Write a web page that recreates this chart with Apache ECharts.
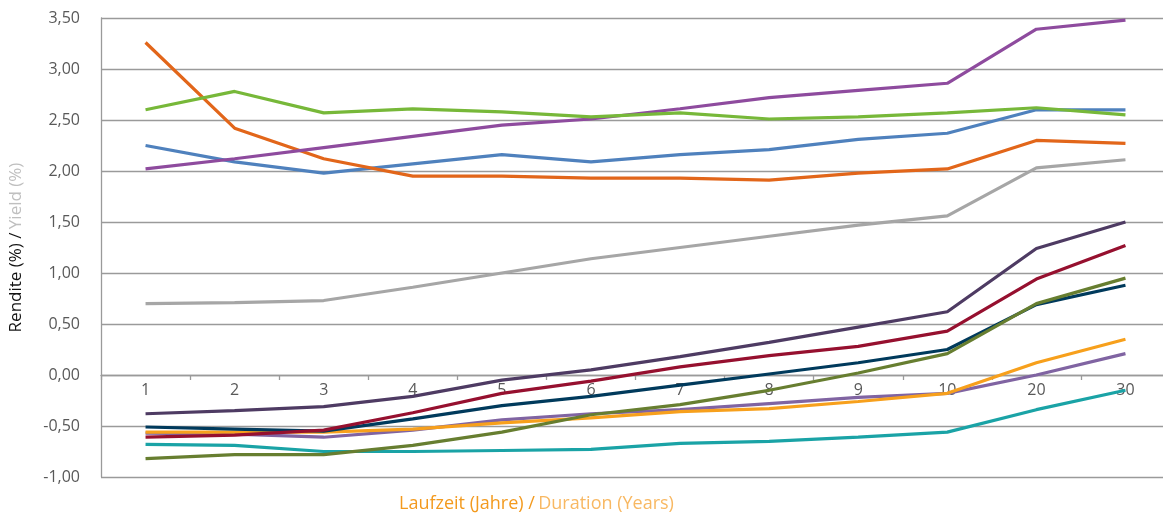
<!DOCTYPE html>
<html>
<head>
<meta charset="utf-8">
<script src="https://cdn.jsdelivr.net/npm/echarts@6/dist/echarts.min.js"></script>
<style>
html,body{margin:0;padding:0;background:#fff;}
#chart{width:1163px;height:513px;}
</style>
</head>
<body>
<div id="chart"></div>
<script>
var categories = ['1','2','3','4','5','6','7','8','9','10','20','30'];
var yTicks = [-1, -0.5, 0, 0.5, 1, 1.5, 2, 2.5, 3, 3.5];

var sGray     = [0.70, 0.71, 0.73, 0.86, 1.00, 1.14, 1.25, 1.36, 1.47, 1.56, 2.03, 2.11];
var sTeal     = [-0.68, -0.69, -0.75, -0.75, -0.74, -0.73, -0.67, -0.65, -0.61, -0.56, -0.34, -0.15];
var sLavender = [-0.57, -0.58, -0.61, -0.54, -0.44, -0.38, -0.34, -0.28, -0.22, -0.18, 0.00, 0.21];
var sAmber    = [-0.56, -0.56, -0.56, -0.53, -0.47, -0.42, -0.36, -0.33, -0.26, -0.18, 0.12, 0.35];
var sNavy     = [-0.51, -0.53, -0.55, -0.43, -0.30, -0.21, -0.10, 0.01, 0.12, 0.25, 0.69, 0.88];
var sOlive    = [-0.82, -0.78, -0.78, -0.69, -0.56, -0.39, -0.29, -0.15, 0.02, 0.21, 0.70, 0.95];
var sCrimson  = [-0.61, -0.59, -0.54, -0.37, -0.18, -0.06, 0.08, 0.19, 0.28, 0.43, 0.94, 1.27];
var sPlum     = [-0.38, -0.35, -0.31, -0.21, -0.05, 0.05, 0.18, 0.32, 0.47, 0.62, 1.24, 1.50];
var sBlue     = [2.25, 2.09, 1.98, 2.07, 2.16, 2.09, 2.16, 2.21, 2.31, 2.37, 2.60, 2.60];
var sOrange   = [3.26, 2.42, 2.12, 1.95, 1.95, 1.93, 1.93, 1.91, 1.98, 2.02, 2.30, 2.27];
var sPurple   = [2.02, 2.12, 2.23, 2.34, 2.45, 2.51, 2.61, 2.72, 2.79, 2.86, 3.39, 3.48];
var sGreen    = [2.60, 2.78, 2.57, 2.61, 2.58, 2.53, 2.57, 2.51, 2.53, 2.57, 2.62, 2.55];

var seriesList = [
  {data: sGray, color: '#A6A6A6'},
  {data: sTeal, color: '#1AA3A6'},
  {data: sLavender, color: '#8064A2'},
  {data: sAmber, color: '#F7A01C'},
  {data: sNavy, color: '#003A5C'},
  {data: sOlive, color: '#677E30'},
  {data: sCrimson, color: '#96102F'},
  {data: sPlum, color: '#4E3B63'},
  {data: sBlue, color: '#4F81BD'},
  {data: sOrange, color: '#E2661A'},
  {data: sPurple, color: '#8E4B9E'},
  {data: sGreen, color: '#77B839'}
];

var gridTop = 18, gridHeight = 459;
var yMin = yTicks[0], yMax = yTicks[yTicks.length - 1];
// x axis drawn at the zero line
var zeroOffset = -Math.round(gridHeight * (0 - yMin) / (yMax - yMin));

var chart = echarts.init(document.getElementById('chart'), null, {renderer: 'canvas'});
var font = "'Open Sans', 'Noto Sans', sans-serif";
chart.setOption({
  animation: false,
  backgroundColor: '#ffffff',
  grid: {left: 101, top: gridTop, width: 1069, height: gridHeight, containLabel: false, outerBoundsMode: 'none'},
  xAxis: {
    type: 'category',
    data: categories,
    boundaryGap: true,
    offset: zeroOffset,
    axisLine: {onZero: false, lineStyle: {color: '#9A9A9A', width: 1.3}},
    axisTick: {show: true, length: 5, alignWithLabel: false, lineStyle: {color: '#9A9A9A', width: 1.3}},
    axisLabel: {color: '#595959', fontSize: 16, fontFamily: font, margin: 7},
    splitLine: {show: false}
  },
  yAxis: {
    type: 'value',
    min: yMin,
    max: yMax,
    interval: 0.5,
    axisLine: {show: true, lineStyle: {color: '#9A9A9A', width: 1.3}},
    axisTick: {show: false},
    axisLabel: {
      color: '#595959', fontSize: 16, fontFamily: font, margin: 21,
      formatter: function (v) { return v.toFixed(2).replace('.', ','); }
    },
    splitLine: {show: true, lineStyle: {color: '#9A9A9A', width: 1.3}},
    name: '{a|Rendite (%) /} {b|Yield (%)}',
    nameLocation: 'middle',
    nameGap: 76,
    nameMoveOverlap: false,
    nameRotate: 90,
    nameTextStyle: {
      rich: {
        a: {color: '#111111', fontSize: 17, fontFamily: font},
        b: {color: '#BFBFBF', fontSize: 17, fontFamily: font}
      }
    }
  },
  graphic: [{
    type: 'text',
    left: 399,
    top: 495,
    style: {
      text: '{a|Laufzeit (Jahre) /} {b|Duration (Years)}',
      rich: {
        a: {fill: '#F39A1E', fontSize: 18, fontFamily: font},
        b: {fill: '#F8B862', fontSize: 18, fontFamily: font}
      }
    }
  }],
  series: seriesList.map(function (s) {
    return {
      type: 'line',
      data: s.data,
      symbol: 'none',
      lineStyle: {color: s.color, width: 3.2},
      itemStyle: {color: s.color}
    };
  })
});
</script>
</body>
</html>
